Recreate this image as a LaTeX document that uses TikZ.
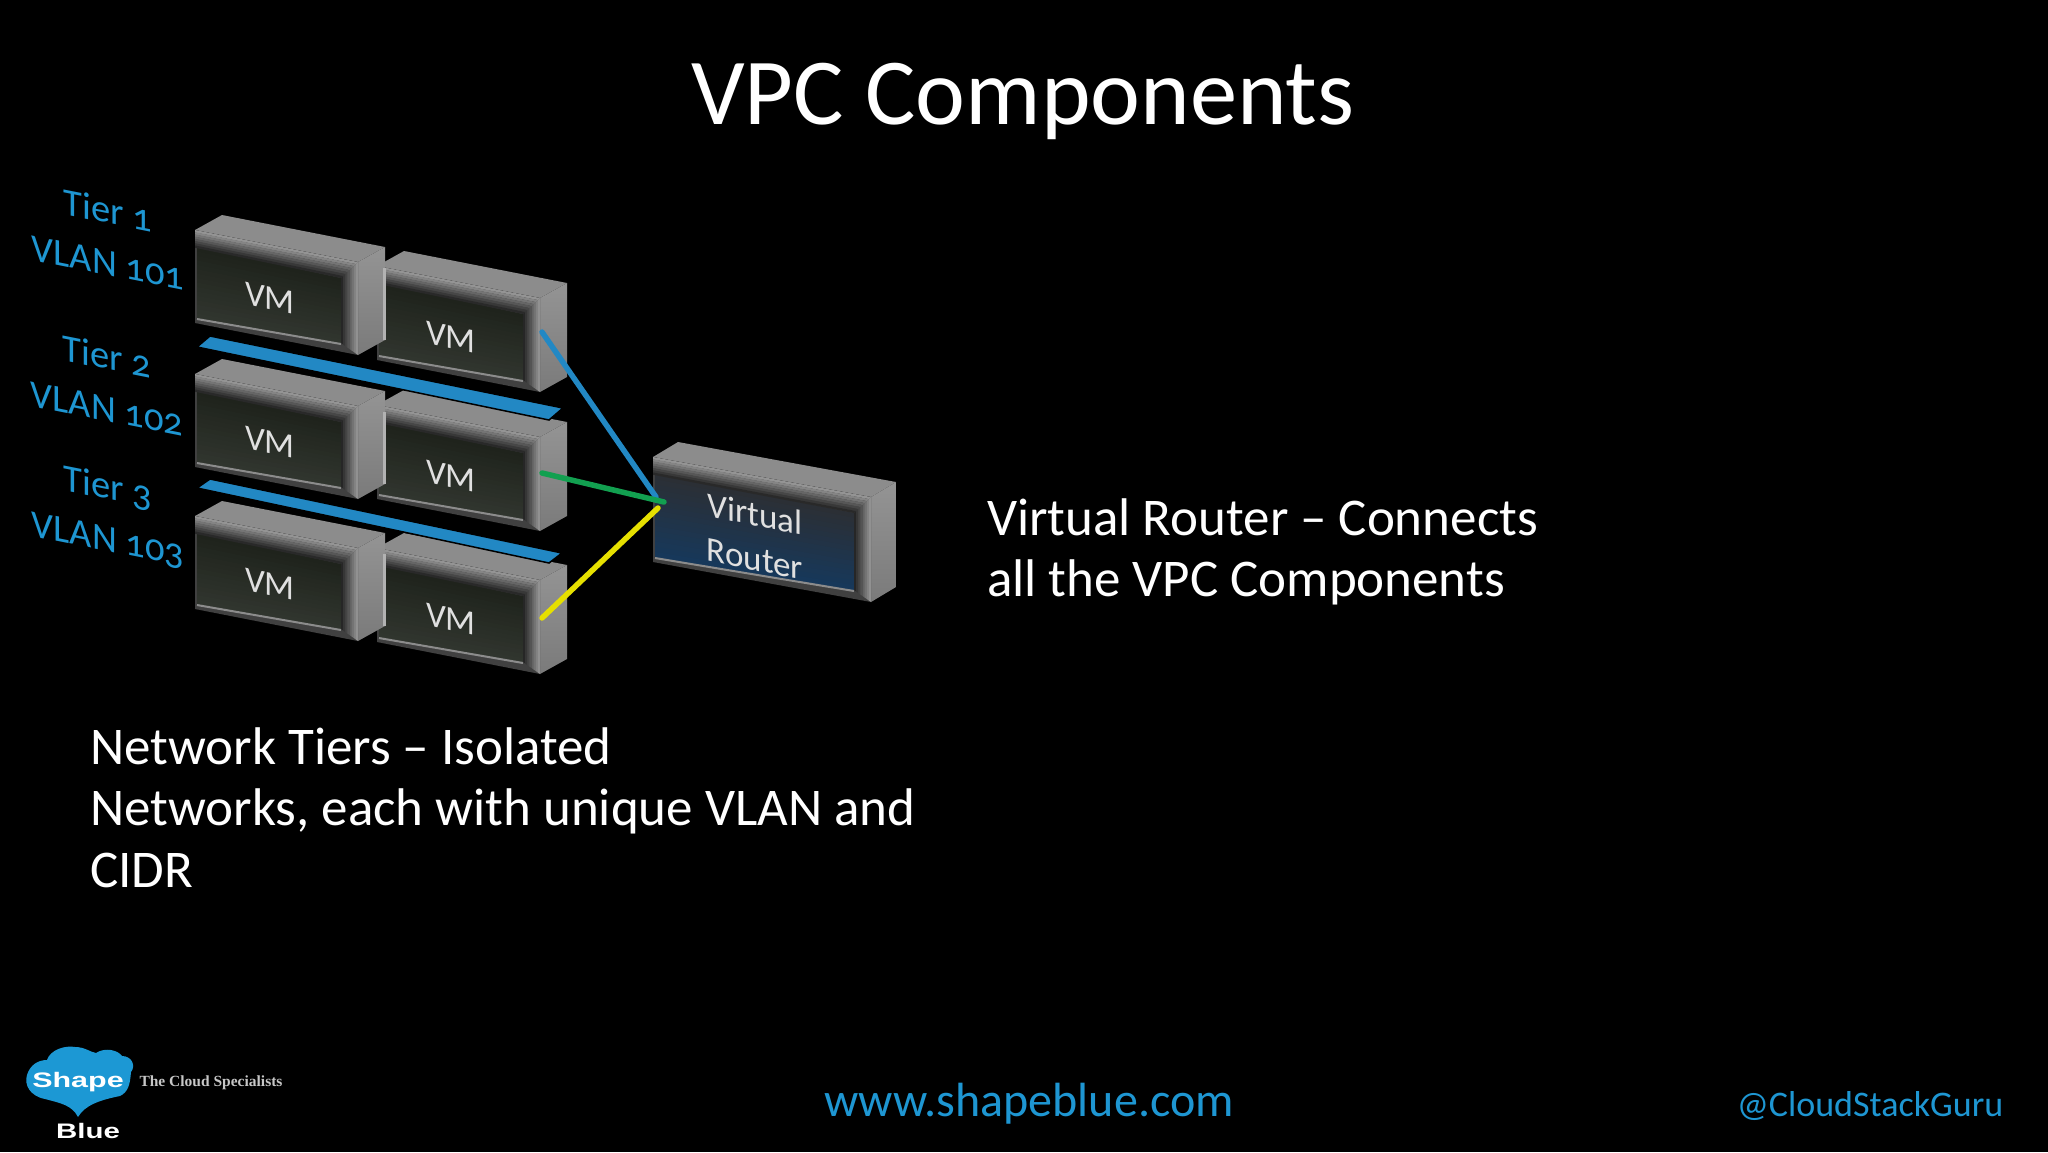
\documentclass[tikz,border=0pt]{standalone}
\usepackage{fontspec}
\setmainfont[Numbers=OldStyle]{Carlito}
\newfontfamily\logosans{Liberation Sans}
\newfontfamily\logoserif{Liberation Serif}
\definecolor{SBBlue}{HTML}{1E96D2}
\definecolor{SBCloud}{HTML}{1C98D4}
\definecolor{SBBar}{HTML}{2288C4}
\definecolor{SBGreen}{HTML}{12A050}
\definecolor{SBYellow}{HTML}{E6E000}
\definecolor{VMTop}{HTML}{1F231C}
\definecolor{VMBottom}{HTML}{30352E}
\definecolor{RouterTop}{HTML}{2B2F35}
\definecolor{RouterBottom}{HTML}{17385A}
\tikzstyle{headline} = [anchor=base, text=white, inner sep=0pt, font=\fontsize{94.5}{94.5}\selectfont]
\tikzstyle{bodytext} = [anchor=base west, text=white, inner sep=0pt, font=\fontsize{53}{62}\selectfont]
\tikzstyle{tiertext} = [text=SBBlue, inner sep=0pt, yslant=-0.2, font=\fontsize{38.5}{39}\selectfont]
\tikzstyle{boxtext} = [text=black!12, inner sep=0pt, yslant=-0.2, align=center, font=\fontsize{35}{38}\selectfont]
\tikzstyle{footer} = [anchor=base, text=SBBlue, inner sep=0pt]
\tikzstyle{link} = [line width=5.5pt, line cap=round]
% args: x, y, width, slope drop, height, depth, face top, face bottom
\newcommand{\slab}[8]{%
	\begin{scope}[shift={(#1,#2)}]
		\fill[black!45] (0,0) -- (#6,-15) -- ({#3+#6},{#4-15}) -- (#3,#4) -- cycle;
		\shade[top color=black!42, bottom color=black!52] (#3,#4) -- ({#3+#6},{#4-15}) -- ({#3+#6},{#4+#5-15}) -- (#3,{#4+#5}) -- cycle;
		\fill[black!75] (0,0) -- (#3,#4) -- (#3,{#4+#5}) -- (0,#5) -- cycle;
		\foreach \k in {0,...,15} {
			\pgfmathsetmacro{\p}{100*\k/15}
			\colorlet{bandcol}{#8!\p!#7}
			\fill[bandcol] (2,{17+\k*(#5-22)/16}) -- ({#3-17},{#4+16+\k*(#5-28)/16}) -- ({#3-17},{#4+16+(\k+1.2)*(#5-28)/16}) -- (2,{17+(\k+1.2)*(#5-22)/16}) -- cycle;
		}
		\draw[black!45, line width=2pt] (2,{#5-4}) -- ({#3-17},{#4+#5-11});
		\foreach \k in {0,...,7} {
			\fill[black!\the\numexpr 85-\k*6\relax] ({#3-17+\k*17/8},{#4+16-\k*2}) -- ({#3-17+(\k+1.1)*17/8},{#4+16-(\k+1.1)*2}) -- ({#3-17+(\k+1.1)*17/8},{#4+#5-12+(\k+1.1)*1.5}) -- ({#3-17+\k*17/8},{#4+#5-12+\k*1.5}) -- cycle;
		}
		\foreach \k in {0,...,7} {
			\fill[black!\the\numexpr 42+\k*6\relax] (0,{\k*2.2}) -- ({#3-\k*2.12},{#4+\k*2}) -- ({#3-(\k+1)*2.12},{#4+(\k+1)*2}) -- (0,{(\k+1.1)*2.2}) -- cycle;
		}
	\end{scope}
}
\begin{document}
\begin{tikzpicture}[x=1pt,y=-1pt]
	\useasboundingbox (0,0) rectangle (2048,1152);
	\fill[black] (0,0) rectangle (2048,1152);

	\node[headline] (title) at (1023,124) {VPC Components};

	% VM boxes, right column first
	\foreach \yb/\ya/\n in {266/230/1,405/374/2,548/516/3} {
		\slab{377}{\yb}{163}{32}{94}{27}{VMTop}{VMBottom}
		\slab{195}{\ya}{163}{32}{93}{27}{VMTop}{VMBottom}
		\draw[black!30, line width=3pt] (384,\ya+38) -- (384,\ya+110);
		\node[boxtext] (vmb\n) at (451,\yb+71) {VM};
		\node[boxtext] (vma\n) at (270,\ya+68) {VM};
	}

	% tier bars
	\filldraw[fill=SBBar, draw=black, line width=1.5pt] (197,347) -- (210,336) -- (563,408) -- (549,420) -- cycle;
	\filldraw[fill=SBBar, draw=black, line width=1.5pt] (197,488) -- (210,479) -- (562,553) -- (549,563) -- cycle;

	% router
	\slab{653}{457}{218}{40}{105}{25}{RouterTop}{RouterBottom}
	\node[boxtext] (router) at (755,536) {Virtual\\[7pt]Router};

	\coordinate (portA) at (542,332);
	\coordinate (portB) at (542,473);
	\coordinate (portC) at (542,618);
	\coordinate (inA) at (656,497);
	\coordinate (inB) at (664,502);
	\coordinate (inC) at (658,508);
	\draw[link, SBBar] (portA) -- (inA);
	\draw[link, SBGreen] (portB) -- (inB);
	\draw[link, SBYellow] (portC) -- (inC);

	\node[tiertext] (tierA) at (108,210) {Tier 1};
	\node[tiertext] (vlanA) at (108,263) {VLAN 101};
	\node[tiertext] (tierB) at (107,356) {Tier 2};
	\node[tiertext] (vlanB) at (107,409) {VLAN 102};
	\node[tiertext] (tierC) at (108,488) {Tier 3};
	\node[tiertext] (vlanC) at (108,541) {VLAN 103};

	\node[bodytext] (vrA) at (987,535) {Virtual Router – Connects};
	\node[bodytext] (vrB) at (987,596) {all the VPC Components};
	\node[bodytext] (ntA) at (90,764) {Network Tiers – Isolated};
	\node[bodytext] (ntB) at (90,825) {Networks, each with unique VLAN and};
	\node[bodytext] (ntC) at (90,887) {CIDR};

	\node[footer, font=\fontsize{48}{48}\selectfont] (web) at (1029,1116) {www.shapeblue.com};
	\node[footer, font=\fontsize{36}{36}\selectfont] (handle) at (1870,1116) {@CloudStackGuru};

	% logo
	\fill[SBCloud] (78,1117) .. controls (72,1105) and (60,1103) .. (45,1099)
		.. controls (30,1096) and (24,1085) .. (27,1075)
		.. controls (30,1065) and (38,1060) .. (47,1060)
		.. controls (50,1050) and (65,1045) .. (75,1047)
		.. controls (85,1047) and (90,1052) .. (96,1053)
		.. controls (105,1047) and (118,1050) .. (122,1056)
		.. controls (132,1056) and (136,1066) .. (131,1072)
		.. controls (130,1085) and (128,1092) .. (120,1096)
		.. controls (100,1100) and (85,1105) .. (78,1117) -- cycle;
	\node[inner sep=0pt, text=white, xscale=1.45, font=\logosans\bfseries\fontsize{21}{21}\selectfont] (shape) at (78,1082) {Shape};
	\node[inner sep=0pt, text=white, xscale=1.4, font=\logosans\bfseries\fontsize{21}{21}\selectfont] (blue) at (88,1131) {Blue};
	\node[inner sep=0pt, text=black!22, font=\logoserif\bfseries\fontsize{15.5}{15.5}\selectfont] (claim) at (211,1083) {The Cloud Specialists};
\end{tikzpicture}
\end{document}
